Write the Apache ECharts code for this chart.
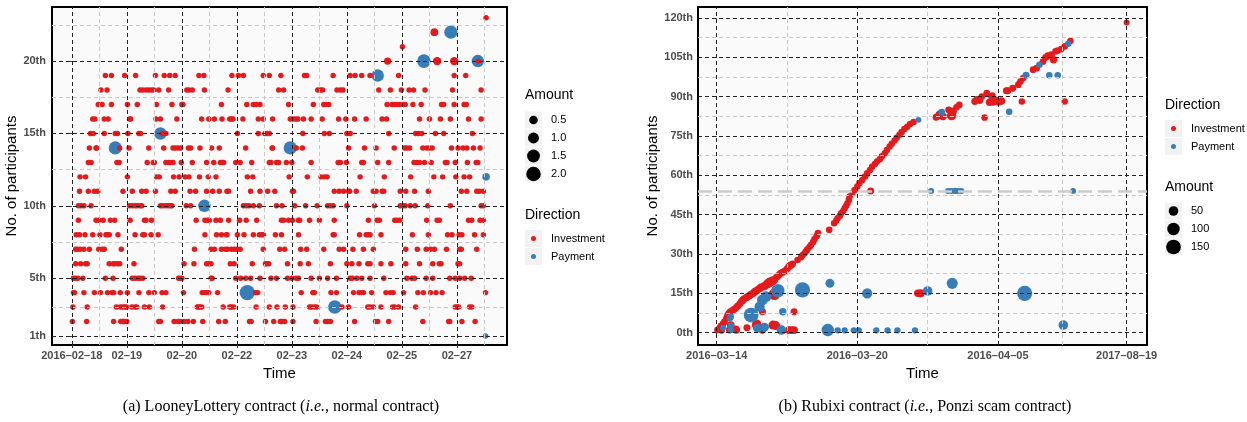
<!DOCTYPE html>
<html>
<head>
<meta charset="utf-8">
<script src="https://cdn.jsdelivr.net/npm/echarts@6/dist/echarts.min.js"></script>
<style>
  html, body { margin: 0; padding: 0; background: #fff; }
  #chart { width: 1247px; height: 422px; }
</style>
</head>
<body>
<div id="chart"></div>
<script>
// ---------- (a) LooneyLottery: x = day step index, y = participant no. ----------
const looneyDays = ["2016–02–18", "02–19", "02–20", "02–22", "02–23", "02–24", "02–25", "02–27"];
const looneyYTicks = [1, 5, 10, 15, 20];
const looneyAmountKeys = [0.5, 1.0, 1.5, 2.0];

// small investments, one row per participant number: [y, [x...]]
const looneyInvestRows = [
  [2, [0.01,0.27,0.76,0.89,0.92,0.94,0.96,1.00,1.58,1.61,1.86,1.93,1.97,2.04,2.11,2.21,2.38,2.67,2.79,3.23,3.26,3.52,3.67,3.79,3.82,3.87,4.02,4.44,4.61,4.65,4.70,5.14,5.52,5.56,5.76,6.38,6.85,6.87,7.09,7.33]],
  [3, [0.02,0.28,0.81,0.88,0.92,0.96,0.99,1.09,1.15,1.18,1.32,1.41,1.65,2.28,2.30,2.33,2.36,2.75,2.87,2.90,2.94,3.35,3.59,3.73,3.88,4.02,4.32,4.36,4.41,4.45,4.91,5.03,5.38,5.42,5.48,5.62,5.83,5.87,5.94,6.25,6.97,7.00,7.03,7.23,7.27]],
  [4, [0.03,0.05,0.22,0.41,0.52,0.65,0.73,0.76,0.88,1.01,1.22,1.40,1.50,1.64,1.71,2.03,2.37,2.41,2.45,2.49,2.65,3.34,3.38,4.17,4.38,4.41,4.71,4.81,5.12,5.22,5.26,5.30,5.45,5.71,5.79,5.84,6.03,6.29,6.39,6.52,6.62,6.73,7.52]],
  [5, [0.03,0.07,0.11,0.20,0.61,0.75,1.10,1.15,1.20,1.24,1.29,1.94,1.97,2.00,2.53,2.55,2.98,3.07,3.16,3.25,3.42,3.62,3.72,3.92,4.00,4.08,4.12,4.35,4.50,4.65,4.81,5.06,5.10,5.18,5.27,5.42,5.67,6.09,6.18,6.23,6.44,6.56,6.87,6.97,7.05,7.14,7.26]],
  [6, [0.07,0.16,0.25,0.28,0.68,0.75,0.78,0.83,0.87,1.13,2.04,2.22,2.45,2.49,2.53,2.88,2.95,3.28,3.52,3.54,3.58,3.92,4.15,4.30,4.70,5.00,5.09,5.22,5.38,5.42,5.62,5.80,6.07,6.32,6.56,6.68,6.71,7.02,7.05]],
  [7, [0.07,0.10,0.15,0.22,0.32,0.49,0.55,0.59,0.90,2.23,2.53,2.59,2.72,2.79,2.83,2.90,2.95,3.00,3.06,3.48,3.78,3.87,4.16,4.27,4.58,4.86,4.94,5.11,5.30,5.48,6.07,6.28,6.44,6.52,6.59,6.81,7.05,7.08,7.36]],
  [8, [0.08,0.14,0.24,0.38,0.51,0.62,0.65,0.68,0.84,1.15,1.29,1.32,1.44,1.57,2.42,2.63,2.72,2.81,2.82,3.01,3.13,3.30,3.41,3.45,3.48,3.70,3.81,4.12,4.75,4.77,5.23,5.35,5.39,5.42,5.62,6.19,6.48,6.83,6.91,7.04,7.09,7.32,7.48]],
  [9, [0.12,0.44,0.49,0.57,0.70,0.78,1.06,1.32,1.35,1.45,2.26,2.42,2.47,2.50,2.62,2.70,2.85,3.05,3.17,3.36,3.81,3.85,3.94,4.01,4.12,4.14,4.32,4.50,4.77,5.39,5.55,5.59,5.87,5.91,5.96,6.45,6.64,6.68,7.21,7.27,7.42,7.48]],
  [10, [0.12,0.17,0.22,0.35,1.05,1.10,1.15,1.19,1.24,1.27,1.61,1.65,1.70,1.75,1.79,1.82,2.08,2.16,3.12,3.17,3.22,3.30,3.41,3.72,3.82,4.05,4.25,4.46,4.65,4.70,4.75,5.00,5.50,5.97,6.02,6.06,6.15,6.24,6.47,6.88,7.44,7.48]],
  [11, [0.14,0.30,0.41,0.47,0.93,1.10,1.27,1.35,1.52,1.80,1.88,2.15,2.25,2.45,2.56,2.68,2.82,2.85,3.25,3.42,3.56,3.69,4.01,4.03,4.77,4.86,4.94,5.03,5.05,5.17,5.48,5.53,5.64,5.67,5.97,6.07,6.23,6.48,7.08,7.18,7.36,7.41,7.48]],
  [12, [0.15,0.25,1.01,1.54,1.59,1.85,1.95,2.06,2.13,2.32,2.48,2.62,3.19,3.29,3.95,4.28,4.53,4.59,4.64,5.24,5.68,6.16,6.58,6.74,6.98,7.13,7.23]],
  [13, [0.30,0.35,0.82,0.86,1.37,1.48,1.50,1.71,1.76,1.80,1.84,1.99,2.19,2.45,2.58,2.70,2.73,2.76,2.98,3.06,3.27,3.59,3.62,3.72,3.76,3.90,4.00,4.35,4.84,4.88,4.99,5.27,5.30,5.56,5.76,6.22,6.27,6.32,6.41,6.53,6.79,6.82,6.97,7.19,7.35,7.38]],
  [14, [0.32,0.44,0.45,0.87,1.04,1.40,1.67,1.84,1.88,1.93,1.98,2.12,2.16,2.33,2.54,2.68,3.16,3.64,3.65,4.08,4.19,5.03,5.32,5.53,5.86,6.05,6.09,6.14,6.38,6.45,6.50,6.55,6.90,7.02,7.11,7.18,7.30,7.42]],
  [15, [0.34,0.39,0.59,0.79,0.83,1.02,1.22,1.25,1.64,1.71,3.01,3.39,3.51,3.55,3.59,4.20,4.59,4.68,5.00,5.06,5.76,6.25,6.30,6.36,6.61,6.76,7.28]],
  [16, [0.38,0.42,0.59,0.66,1.05,1.07,1.53,1.61,1.91,2.36,2.49,2.59,2.73,2.87,2.90,2.93,3.11,3.39,3.48,3.65,3.97,4.02,4.07,4.11,4.21,4.35,4.55,4.85,4.98,5.14,5.35,5.64,5.72,6.32,6.50,6.70,6.88,7.21,7.44]],
  [17, [0.48,0.55,0.72,1.01,1.19,1.54,1.82,2.00,2.02,2.72,3.18,3.30,3.35,3.42,3.94,4.39,4.58,4.62,4.67,5.73,5.82,5.87,5.91,5.96,6.03,6.06,6.20,6.35,6.72,6.76,6.95,7.13,7.17]],
  [18, [0.53,0.64,1.24,1.29,1.35,1.40,1.45,1.49,1.58,1.76,2.09,2.13,2.19,2.41,2.84,3.76,3.85,4.47,4.52,4.56,4.82,4.88,4.93,5.58,5.79,5.99,6.13,6.21,6.42,6.92,7.44]],
  [19, [0.61,0.72,0.96,1.16,1.52,1.68,1.78,1.88,2.31,2.40,2.91,3.03,3.12,3.48,3.59,3.80,4.23,4.27,4.75,5.06,5.15,5.27,5.42,5.94,6.95,7.16]],
  [20, [7.39]],
  [21, [6.01]],
  [23, [7.53]]
];
// larger investments [x, y, amount]
const looneyInvestLarge = [[5.74,20,0.25],[6.64,20,0.45],[6.95,20,0.45],[6.59,22,0.35]];
// payments [x, y, amount]
const looneyPayment = [[0.79,14,1.6],[1.61,15,1.4],[2.41,10,1.4],[3.19,4,2.3],[3.97,14,1.6],[4.78,3,1.7],
  [5.56,19,1.4],[6.40,20,1.7],[6.89,22,1.6],[7.38,20,1.4],[7.53,12,0.3],[7.52,1,0]];

// ---------- (b) Rubixi ----------
const rubixiTickPos = [0, 2, 4, 5.83];
const rubixiTickLabels = ["2016–03–14", "2016–03–20", "2016–04–05", "2017–08–19"];
const rubixiYTicks = [0, 15, 30, 45, 60, 75, 90, 105, 120];
const rubixiAmountKeys = [50, 100, 150];
const rubixiRefLine = 54;

const rubixiInvest = [
  [0.01,1.0,10],[0.04,1.8,10],[0.06,2.6,12],[0.09,3.4,12],[0.11,4.2,12],[0.14,5.5,15],[0.16,6.7,20],[0.18,7.4,20],
  [0.20,8.0,20],[0.23,8.5,15],[0.25,8.9,15],[0.28,9.6,15],[0.30,10.2,15],[0.33,11.0,15],[0.35,11.8,15],[0.37,12.4,18],
  [0.39,12.9,18],[0.42,13.4,18],[0.44,13.7,20],[0.47,14.2,20],[0.49,14.6,20],[0.52,15.0,20],[0.54,15.6,20],[0.56,15.9,20],
  [0.58,16.3,20],[0.61,16.8,20],[0.63,17.3,20],[0.66,17.5,20],[0.68,17.8,25],[0.71,18.3,30],[0.73,18.8,35],[0.75,19.1,50],
  [0.77,19.4,40],[0.80,19.8,40],[0.82,20.1,20],[0.85,21.0,15],[0.87,21.6,15],[0.89,22.1,15],[0.91,22.6,15],[0.94,23.0,15],
  [0.97,23.5,15],[1.00,24.3,15],[1.03,25.2,20],[1.05,25.7,20],[1.08,26.2,12],[1.15,27.7,10],[1.20,28.7,10],[1.22,29.5,10],
  [1.25,30.3,10],[1.27,31.0,10],[1.29,31.8,10],[1.32,32.6,10],[1.34,33.4,10],[1.37,34.5,10],[1.39,35.6,12],[1.42,36.7,12],
  [1.44,37.9,12],[1.60,39.2,12],[1.67,41.7,10],[1.70,42.6,10],[1.72,43.6,10],[1.75,44.5,10],[1.77,45.5,10],[1.80,46.4,10],
  [1.82,47.4,10],[1.84,48.3,10],[1.86,49.3,10],[1.88,50.6,10],[1.89,51.9,10],[1.93,53.2,10],[1.96,54.4,10],[2.00,55.7,10],
  [2.03,57.0,10],[2.07,58.2,10],[2.11,59.5,10],[2.14,60.7,10],[2.18,62.0,10],[2.21,63.2,10],[2.25,64.3,10],[2.28,65.2,10],
  [2.32,66.1,10],[2.35,67.2,10],[2.39,68.4,10],[2.42,69.6,10],[2.46,70.9,10],[2.49,72.0,10],[2.53,73.2,10],[2.56,74.3,10],
  [2.60,75.4,10],[2.63,76.5,10],[2.67,77.6,10],[2.71,78.5,10],[2.75,79.5,10],[2.80,80.3,10],
  [0.07,0.8,10],[0.18,1.0,15],[0.20,2.9,25],[0.27,1.3,20],[0.28,1.0,20],[0.43,1.9,15],[0.57,3.3,40],[0.56,2.9,30],
  [0.61,1.7,30],[0.65,1.0,20],[0.80,2.9,40],[0.84,2.7,40],[1.03,1.0,25],[1.06,1.0,25],[1.10,1.0,25],[0.65,8.0,15],
  [1.10,8.0,15],[0.82,14.6,80],[2.19,54.0,15],[2.86,15.0,20],[2.90,15.0,30],
  [3.12,82.1,15],[3.17,83.0,35],[3.22,82.4,20],[3.30,84.9,15],[3.34,82.7,45],[3.36,84.3,25],[3.41,85.9,12],[3.45,86.8,12],
  [3.67,88.1,15],[3.70,88.9,15],[3.74,88.5,15],[3.77,90.0,12],[3.84,91.3,12],[3.81,82.0,12],[3.91,90.0,12],[3.88,87.8,20],
  [3.93,88.0,25],[3.97,88.5,25],[4.01,88.0,25],[4.05,88.3,20],[3.92,90.3,12],[4.12,92.2,15],[4.14,92.2,15],[4.21,93.1,15],
  [4.29,94.5,12],[4.32,95.7,12],[4.36,97.0,12],[4.34,88.1,10],[4.50,100.2,12],[4.55,100.8,12],[4.64,103.3,12],[4.68,104.9,15],
  [4.71,105.5,15],[4.76,105.9,15],[4.79,104.0,20],[4.82,107.2,12],[4.85,107.5,12],[4.90,108.1,12],[4.95,109.1,12],[5.03,111.1,10],
  [4.95,88.1,10],[5.83,118.2,5]
];
const rubixiPayment = [
  [0.09,1.9,5],[0.20,2.6,10],[0.20,1.0,10],[0.19,5.5,8],[0.20,6.1,10],[0.49,6.7,150],[0.61,9.9,60],[0.65,12.5,70],
  [0.70,13.7,70],[0.87,16.0,120],[1.22,16.3,160],[1.61,18.8,40],[0.94,8.0,20],[0.58,1.7,40],[0.68,2.1,40],[0.92,1.0,50],
  [1.58,1.0,100],[1.72,0.9,8],[1.82,0.9,8],[1.95,0.9,8],[2.02,0.9,8],[2.27,0.9,8],[2.43,0.9,8],[2.57,0.9,8],[2.82,0.9,8],
  [2.14,15.0,60],[3.00,15.9,50],[3.35,18.8,75],[4.38,15.0,160],[4.93,2.9,50],[2.87,81.1,3],[3.20,84.0,15],[4.16,84.2,10],
  [4.40,98.1,15],[4.59,102.1,10],[5.00,110.1,10],[4.73,98.1,10],[4.85,98.1,10],
  [3.05,54.0,5],[3.29,54.0,5],[3.34,54.0,5],[3.39,54.0,8],[3.43,54.0,5],[3.48,54.0,5],[5.07,54.0,3]
];

// ---------- helpers ----------
const RED = "#E41A1C", BLUE = "#377EB8";
const looneySize = a => Math.sqrt(30 + 90 * a);
const rubixiSize = a => Math.sqrt(30 + 1.25 * a);

const looneyInvest = [];
looneyInvestRows.forEach(([y, xs]) => xs.forEach(x => looneyInvest.push([x, y, 0])));
looneyInvestLarge.forEach(p => looneyInvest.push(p));

const major = { color: "#222", width: 1, type: [4, 3] };
const minor = { color: "#c8c8c8", width: 1, type: [4, 3] };
function gridLines(xMajor, xMinor, yMajor, yMinor) {
  const d = [];
  xMinor.forEach(v => d.push({ xAxis: v, lineStyle: minor }));
  yMinor.forEach(v => d.push({ yAxis: v, lineStyle: minor }));
  xMajor.forEach(v => d.push({ xAxis: v, lineStyle: major }));
  yMajor.forEach(v => d.push({ yAxis: v, lineStyle: major }));
  return d;
}

const tickLabel = { color: "#4d4d4d", fontWeight: "bold", fontSize: 11, fontFamily: "Liberation Sans" };
const axisName = { color: "#000", fontSize: 15, fontFamily: "Liberation Sans" };

function legendKey(x, cy, d, color, label) {
  return [
    { type: "rect", shape: { x: x, y: cy - 8.5, width: 17, height: 17 }, style: { fill: "#f2f2f2" } },
    { type: "circle", shape: { cx: x + 8.5, cy: cy, r: d / 2 }, style: { fill: color } },
    { type: "text", style: { x: x + 26, y: cy, text: label, fill: "#000", font: "11px 'Liberation Sans'", textVerticalAlign: "middle" } }
  ];
}
function legendTitle(x, cy, text) {
  return { type: "text", style: { x: x, y: cy, text: text, fill: "#000", font: "14px 'Liberation Sans'", textVerticalAlign: "middle" } };
}

const graphics = [];
// legend (a)
graphics.push(legendTitle(525, 95, "Amount"));
looneyAmountKeys.forEach((a, i) => graphics.push(...legendKey(525, 120 + i * 18, looneySize(a), "#000", a.toFixed(1))));
graphics.push(legendTitle(525, 215, "Direction"));
graphics.push(...legendKey(525, 238.5, 5, RED, "Investment"));
graphics.push(...legendKey(525, 256.5, 5, BLUE, "Payment"));
// legend (b)
graphics.push(legendTitle(1165, 105, "Direction"));
graphics.push(...legendKey(1165, 128.5, 5, RED, "Investment"));
graphics.push(...legendKey(1165, 146.5, 5, BLUE, "Payment"));
graphics.push(legendTitle(1165, 187, "Amount"));
rubixiAmountKeys.forEach((a, i) => graphics.push(...legendKey(1165, 211 + i * 18, rubixiSize(a), "#000", String(a))));
// captions
const capRich = {
  n: { fontFamily: "Liberation Serif", fontSize: 16, color: "#000" },
  i: { fontFamily: "Liberation Serif", fontSize: 16, fontStyle: "italic", color: "#000" }
};
graphics.push({ type: "text", style: { x: 281, y: 407, text: "{n|(a) LooneyLottery contract (}{i|i.e.}{n|, normal contract)}", rich: capRich, textAlign: "center", textVerticalAlign: "middle" } });
graphics.push({ type: "text", style: { x: 925, y: 407, text: "{n|(b) Rubixi contract (}{i|i.e.}{n|, Ponzi scam contract)}", rich: capRich, textAlign: "center", textVerticalAlign: "middle" } });

function nearestLabel(v) {
  let best = 0;
  rubixiTickPos.forEach((p, i) => { if (Math.abs(p - v) < Math.abs(rubixiTickPos[best] - v)) best = i; });
  return rubixiTickLabels[best];
}

const chart = echarts.init(document.getElementById("chart"));
chart.setOption({
  animation: false,
  backgroundColor: "#fff",
  grid: [
    { left: 52, top: 7, width: 455, height: 338, show: true, backgroundColor: "#fafafa", borderColor: "#000", borderWidth: 2 },
    { left: 698, top: 7, width: 449, height: 338, show: true, backgroundColor: "#fafafa", borderColor: "#000", borderWidth: 2 }
  ],
  xAxis: [
    {
      gridIndex: 0, type: "value", min: -0.36, max: 7.91,
      axisLine: { show: false }, splitLine: { show: false },
      axisTick: { show: true, length: 3, customValues: looneyDays.map((d, i) => i), lineStyle: { color: "#333" } },
      axisLabel: { customValues: looneyDays.map((d, i) => i), formatter: v => looneyDays[Math.round(v)], margin: 5, ...tickLabel },
      name: "Time", nameLocation: "middle", nameGap: 18, nameTextStyle: axisName
    },
    {
      gridIndex: 1, type: "value", min: -0.266, max: 6.12,
      axisLine: { show: false }, splitLine: { show: false },
      axisTick: { show: true, length: 3, customValues: rubixiTickPos, lineStyle: { color: "#333" } },
      axisLabel: { customValues: rubixiTickPos, formatter: v => nearestLabel(v), margin: 5, ...tickLabel },
      name: "Time", nameLocation: "middle", nameGap: 18, nameTextStyle: axisName
    }
  ],
  yAxis: [
    {
      gridIndex: 0, type: "value", min: 0.38, max: 23.74,
      axisLine: { show: false }, splitLine: { show: false },
      axisTick: { show: true, length: 3, customValues: looneyYTicks, lineStyle: { color: "#333" } },
      axisLabel: { customValues: looneyYTicks, formatter: v => v + "th", margin: 6, ...tickLabel },
      name: "No. of participants", nameLocation: "middle", nameGap: 29, nameTextStyle: axisName
    },
    {
      gridIndex: 1, type: "value", min: -4.7, max: 124.1,
      axisLine: { show: false }, splitLine: { show: false },
      axisTick: { show: true, length: 3, customValues: rubixiYTicks, lineStyle: { color: "#333" } },
      axisLabel: { customValues: rubixiYTicks, formatter: v => v + "th", margin: 5, ...tickLabel },
      name: "No. of participants", nameLocation: "middle", nameGap: 35, nameTextStyle: axisName
    }
  ],
  graphic: graphics,
  series: [
    {
      type: "scatter", xAxisIndex: 0, yAxisIndex: 0, data: [], z: 1, silent: true,
      markLine: { silent: true, symbol: ["none", "none"], label: { show: false }, animation: false,
        data: gridLines([0,1,2,3,4,5,6,7], [0.5,1.5,2.5,3.5,4.5,5.5,6.5,7.5], looneyYTicks, [3,7.5,12.5,17.5,22.5]) }
    },
    {
      name: "Payment", type: "scatter", xAxisIndex: 0, yAxisIndex: 0, z: 2,
      data: looneyPayment, symbolSize: v => looneySize(v[2]), itemStyle: { color: BLUE, opacity: 1 }
    },
    {
      name: "Investment", type: "scatter", xAxisIndex: 0, yAxisIndex: 0, z: 3,
      data: looneyInvest, symbolSize: v => looneySize(v[2]), itemStyle: { color: RED, opacity: 1 }
    },
    {
      type: "scatter", xAxisIndex: 1, yAxisIndex: 1, data: [], z: 1, silent: true,
      markLine: { silent: true, symbol: ["none", "none"], label: { show: false }, animation: false,
        data: gridLines(rubixiTickPos, [1, 3, 4.91], rubixiYTicks, [7.5,22.5,37.5,52.5,67.5,82.5,97.5,112.5])
          .concat([{ yAxis: rubixiRefLine, lineStyle: { color: "#cccccc", width: 2.5, type: [14, 6] } }]) }
    },
    {
      name: "Investment", type: "scatter", xAxisIndex: 1, yAxisIndex: 1, z: 2,
      data: rubixiInvest, symbolSize: v => rubixiSize(v[2]), itemStyle: { color: RED, opacity: 1 }
    },
    {
      name: "Payment", type: "scatter", xAxisIndex: 1, yAxisIndex: 1, z: 3,
      data: rubixiPayment, symbolSize: v => rubixiSize(v[2]), itemStyle: { color: BLUE, opacity: 1 }
    }
  ]
});
</script>
</body>
</html>
